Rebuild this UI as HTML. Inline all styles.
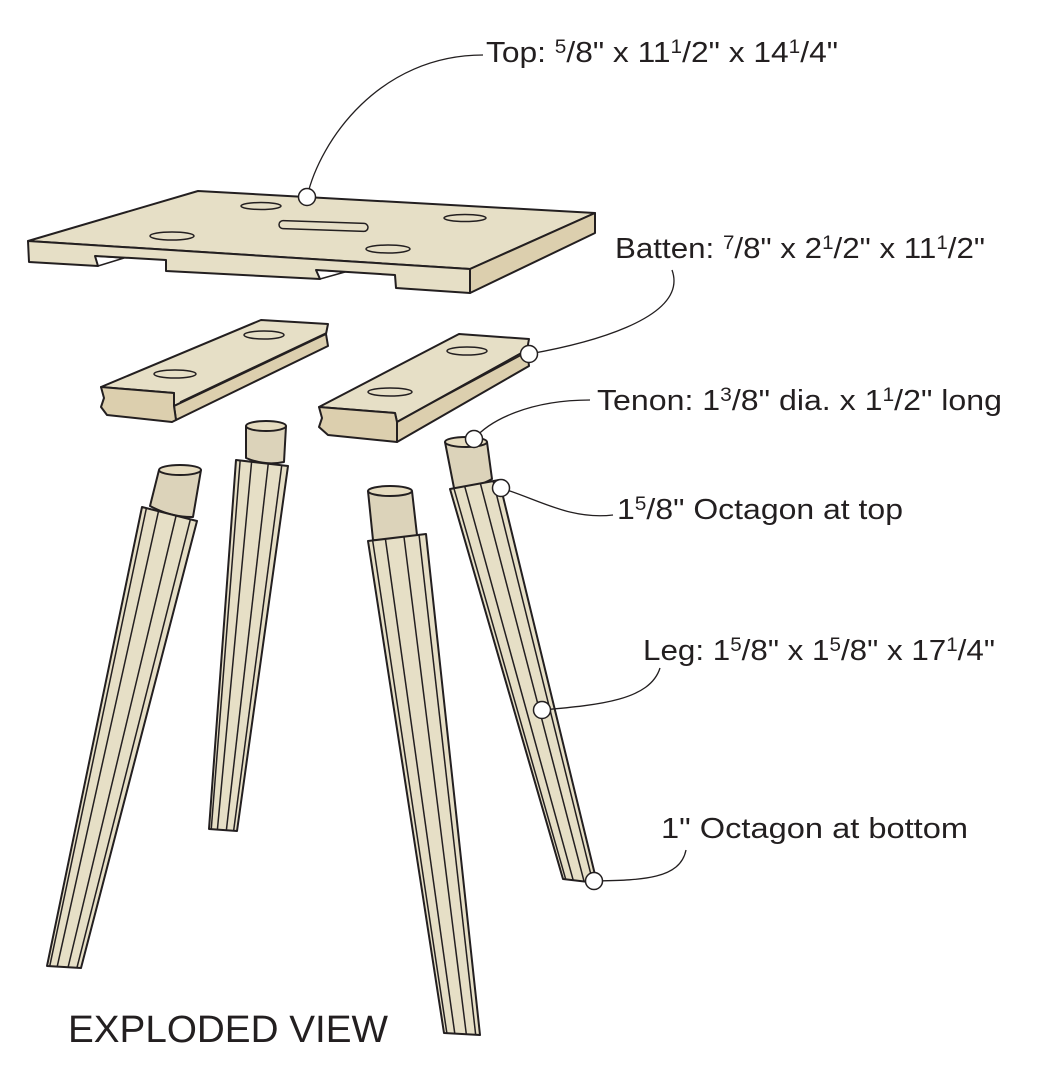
<!DOCTYPE html>
<html><head><meta charset="utf-8"><style>
html,body{margin:0;padding:0;background:#fff}
svg{display:block}
text{font-family:"Liberation Sans",sans-serif;fill:#231f20}
</style></head><body>
<svg id="s" width="1048" height="1072" viewBox="0 0 1048 1072" xmlns="http://www.w3.org/2000/svg">
<g stroke="#231f20" stroke-width="2" stroke-linejoin="round" fill="#e6dfc6">
<!-- top board -->
<polygon points="28,241 198,191 595,213 470,269"/>
<polygon points="470,269 595,213 595,233 470,293" fill="#dccfae"/>
<polygon points="28,241 470,269 470,293 396,288 395,275 316,270 320,279 166,271 166,260 95,256 98,266 29,262"/>
<polyline points="95,256 124,258 98,266" fill="none" stroke-width="1.5"/>
<polyline points="316,270 345,272 320,279" fill="none" stroke-width="1.5"/>
<g fill="none" stroke-width="1.5">
<ellipse cx="261" cy="206" rx="20" ry="3.5"/>
<ellipse cx="465" cy="218" rx="21" ry="3.5"/>
<ellipse cx="172" cy="236" rx="22" ry="4"/>
<ellipse cx="388" cy="249" rx="22" ry="4"/>
<rect x="279" y="222" width="89" height="8" rx="4" transform="rotate(2 323 226)"/>
</g>
<!-- batten 1 -->
<polygon points="101,387 261,320 328,324 326,334 174,406 174,393" />
<polygon points="174,406 326,334 328,346 176,420" fill="#dccfae"/>
<line x1="180" y1="402" x2="326" y2="333" stroke-width="1.5"/>
<polygon points="101,387 174,393 174,406 176,420 172,422 107,415 101,407 104,398" fill="#dccfae"/>
<ellipse cx="264" cy="335" rx="20" ry="4" fill="none" stroke-width="1.5"/>
<ellipse cx="175" cy="374" rx="21" ry="4" fill="none" stroke-width="1.5"/>
<!-- batten 2 -->
<polygon points="319,407 459,334 529,339 527,350 397,422 395,413"/>
<polygon points="397,422 527,350 529,366 397,442" fill="#dccfae"/>
<line x1="400" y1="420" x2="527" y2="352" stroke-width="1.5"/>
<polygon points="319,407 395,413 397,422 397,442 328,435 319,427 322,418" fill="#dccfae"/>
<ellipse cx="467" cy="351" rx="20" ry="4" fill="none" stroke-width="1.5"/>
<ellipse cx="390" cy="392" rx="22" ry="4" fill="none" stroke-width="1.5"/>
<g id="legs"></g>
</g>
<!-- callouts -->
<g fill="none" stroke="#231f20" stroke-width="1.3">
<path d="M483,55 C380,55 320,140 307,197"/>
<path d="M672,270 C690,320 580,345 529,354"/>
<path d="M590,400 C530,400 490,420 474,439"/>
<path d="M613,515 C570,520 540,500 501,488"/>
<path d="M660,668 C650,700 600,705 542,710"/>
<path d="M686,850 C680,880 640,880 594,881"/>
</g>
<g fill="#fff" stroke="#231f20" stroke-width="1.5">
<circle cx="307" cy="197" r="8.5"/>
<circle cx="529" cy="354" r="8.5"/>
<circle cx="474" cy="439" r="8.5"/>
<circle cx="501" cy="488" r="8.5"/>
<circle cx="542" cy="710" r="8.5"/>
<circle cx="594" cy="881" r="8.5"/>
</g>
<g font-size="29">
<text x="486" y="62" textLength="352" lengthAdjust="spacingAndGlyphs">Top: <tspan font-size="19" dy="-9">5</tspan><tspan dy="9">/8" x 11</tspan><tspan font-size="19" dy="-9">1</tspan><tspan dy="9">/2" x 14</tspan><tspan font-size="19" dy="-9">1</tspan><tspan dy="9">/4"</tspan></text>
<text x="615" y="258" textLength="370" lengthAdjust="spacingAndGlyphs">Batten: <tspan font-size="19" dy="-9">7</tspan><tspan dy="9">/8" x 2</tspan><tspan font-size="19" dy="-9">1</tspan><tspan dy="9">/2" x 11</tspan><tspan font-size="19" dy="-9">1</tspan><tspan dy="9">/2"</tspan></text>
<text x="597" y="410" textLength="405" lengthAdjust="spacingAndGlyphs">Tenon: 1<tspan font-size="19" dy="-9">3</tspan><tspan dy="9">/8" dia. x 1</tspan><tspan font-size="19" dy="-9">1</tspan><tspan dy="9">/2" long</tspan></text>
<text x="617" y="519" textLength="286" lengthAdjust="spacingAndGlyphs">1<tspan font-size="19" dy="-9">5</tspan><tspan dy="9">/8" Octagon at top</tspan></text>
<text x="643" y="660" textLength="352" lengthAdjust="spacingAndGlyphs">Leg: 1<tspan font-size="19" dy="-9">5</tspan><tspan dy="9">/8" x 1</tspan><tspan font-size="19" dy="-9">5</tspan><tspan dy="9">/8" x 17</tspan><tspan font-size="19" dy="-9">1</tspan><tspan dy="9">/4"</tspan></text>
<text x="661" y="838" textLength="307" lengthAdjust="spacingAndGlyphs">1" Octagon at bottom</text>
</g>
<text x="68" y="1042" font-size="38" textLength="320" lengthAdjust="spacingAndGlyphs">EXPLODED VIEW</text>
</svg>
<script>
var NS="http://www.w3.org/2000/svg",g=document.getElementById("legs");
function el(t,a){var e=document.createElementNS(NS,t);for(var k in a)e.setAttribute(k,a[k]);g.appendChild(e);return e;}
function L(x1,y1,x2,y2,t){return [x1+(x2-x1)*t,y1+(y2-y1)*t];}
var legs=[
 // top-left, top-right, bottom-left, bottom-right, tenon top cx,cy,rx, tenon bottom
 {tl:[142,507],tr:[197,521],bl:[47,966],br:[81,968],tc:[180,470],trx:21,tb:[[150,506],[193,517]]},
 {tl:[236,460],tr:[288,466],bl:[209,829],br:[237,831],tc:[266,426],trx:20,tb:[[246,458],[284,462]]},
 {tl:[368,541],tr:[426,534],bl:[444,1033],br:[480,1035],tc:[390,491],trx:22,tb:[[373,540],[417,535]]},
 {tl:[450,489],tr:[499,480],bl:[563,879],br:[597,883],tc:[466,442],trx:21,tb:[[454,488],[492,479]]}
];
legs.forEach(function(l){
 var tc=l.tc,r=l.trx;
 el("path",{d:"M"+(tc[0]-r)+","+tc[1]+" L"+l.tb[0][0]+","+l.tb[0][1]+" Q"+((l.tb[0][0]+l.tb[1][0])/2)+","+((l.tb[0][1]+l.tb[1][1])/2+6)+" "+l.tb[1][0]+","+l.tb[1][1]+" L"+(tc[0]+r)+","+tc[1]+" Z",fill:"#dcd3ba"});
 el("ellipse",{cx:tc[0],cy:tc[1],rx:r,ry:5,fill:"#e6dcc0"});
 el("polygon",{points:[l.tl,l.tr,l.br,l.bl].map(function(p){return p.join(",")}).join(" ")});
 [0.08,0.3,0.62,0.88].forEach(function(t){
  var a=L(l.tl[0],l.tl[1],l.tr[0],l.tr[1],t),b=L(l.bl[0],l.bl[1],l.br[0],l.br[1],t);
  el("line",{x1:a[0],y1:a[1],x2:b[0],y2:b[1],"stroke-width":1.5});
 });
});
</script>
</body></html>
